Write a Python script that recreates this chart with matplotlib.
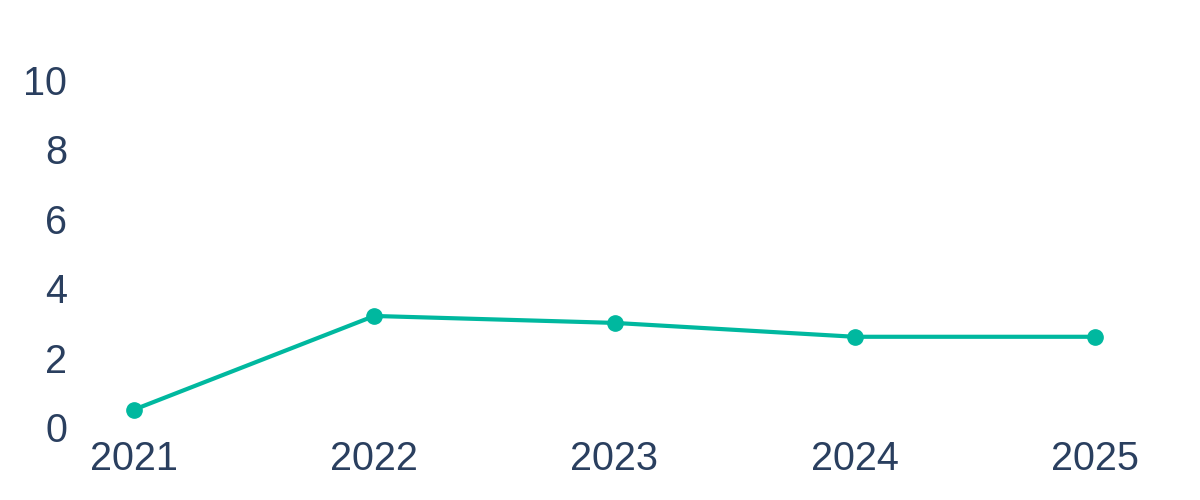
import matplotlib.pyplot as plt

# --- DONNEES ---
years = [2021, 2022, 2023, 2024, 2025]
values = [0.5, 3.2, 3.0, 2.6, 2.6]
y_ticks = [0, 2, 4, 6, 8, 10]

TEXT_COLOR = '#2a3f5f'
LINE_COLOR = '#00b89f'

plt.rcParams['font.family'] = ['Liberation Sans', 'DejaVu Sans']

fig = plt.figure(figsize=(12, 5), dpi=100)
ax = fig.add_axes([134 / 1200, 73 / 500, (1095 - 134) / 1200, 347 / 500])

ax.plot(years, values, color=LINE_COLOR, linewidth=3, marker='o',
        markersize=11, clip_on=False)

ax.set_xlim(2021, 2025)
ax.set_ylim(0, 10)
ax.set_xticks(years)
ax.set_xticklabels([str(y) for y in years])
ax.set_yticks(y_ticks)

ax.tick_params(axis='both', length=0, labelsize=28.5, labelcolor=TEXT_COLOR)
ax.tick_params(axis='y', pad=48)
ax.tick_params(axis='x', pad=9)

for spine in ax.spines.values():
    spine.set_visible(False)

fig.savefig('out.png', dpi=100)
